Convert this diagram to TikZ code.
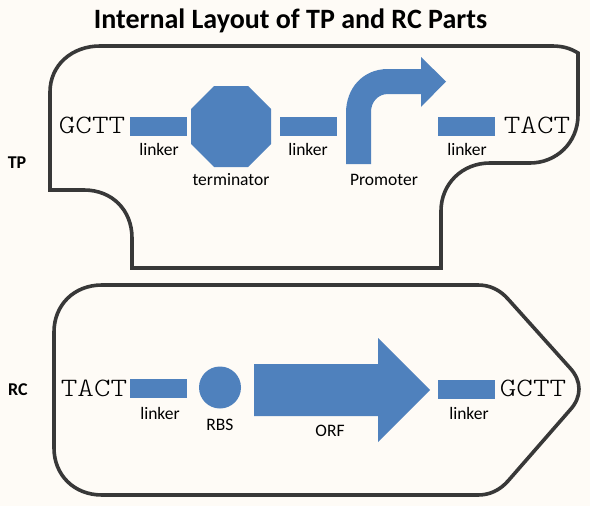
\documentclass[tikz,border=0pt]{standalone}
\usepackage{fontspec}
\setmainfont{Carlito}
\newfontfamily\seqfont[FakeStretch=1.19]{Latin Modern Mono Light}
\tikzset{
  outline/.style={draw=black!78,line width=3.6pt,line join=miter},
  part/.style={fill=partblue,draw=none},
  linkerbox/.style={part,minimum width=57pt,minimum height=19pt,inner sep=0pt},
  lbl/.style={font=\fontsize{17.5pt}{19pt}\selectfont,inner sep=0pt,text=black},
  seq/.style={font=\fontsize{26.5pt}{28pt}\selectfont\seqfont,inner sep=0pt,text=black},
  side/.style={font=\fontsize{18pt}{20pt}\selectfont\bfseries,inner sep=0pt,text=black},
}
\definecolor{partblue}{HTML}{4F81BD}
\definecolor{paper}{HTML}{FEFBF6}
\begin{document}
\begin{tikzpicture}[x=1pt,y=-1pt]
\useasboundingbox (0,0) rectangle (590,506);
\fill[paper] (0,0) rectangle (590,506);
\node[inner sep=0pt,font=\fontsize{28pt}{30pt}\selectfont\bfseries] (title) at (290.5,21) {Internal Layout of TP and RC Parts};
\node[side] (tp) at (17,163) {TP};
\node[side] (rc) at (18,390) {RC};
% TP outline
\draw[outline] (50,190) -- (50,92) .. controls (50,65) and (72,46) .. (100,46)
  -- (552,46) .. controls (562,46) and (570,48) .. (578,53)
  -- (578,115) .. controls (578,143) and (556,163) .. (530,163)
  -- (490,163) .. controls (462,163) and (441,184) .. (441,211)
  -- (441,268) -- (132,268) -- (132,238) .. controls (132,210) and (112,190) .. (84,190)
  -- cycle;
% RC outline
\draw[outline] (54,332) .. controls (54,305) and (74,285) .. (102,285)
  -- (478,285) .. controls (490,285) and (500,290) .. (508,299)
  -- (570,368) .. controls (582,381) and (582,397) .. (570,410)
  -- (508,481) .. controls (500,490) and (490,495) .. (478,495)
  -- (102,495) .. controls (74,495) and (54,475) .. (54,448) -- cycle;
% TP parts
\node[seq] (g1) at (92,125) {GCTT};
\node[linkerbox] (l1) at (158.5,126.5) {};
\node[lbl] (l1t) at (159,149) {linker};
\fill[part] (214,86) -- (248,86) -- (271,109) -- (271,144) -- (248,167) -- (214,167) -- (191,144) -- (191,109) -- cycle;
\node[lbl] (tt) at (231,180) {terminator};
\node[linkerbox] (l2) at (308,126.5) {};
\node[lbl] (l2t) at (308,149) {linker};
\fill[part] (346,164) -- (346,113) .. controls (346,88) and (363,69) .. (388,69) -- (421,69) -- (421,57)
  -- (446,81.5) -- (421,107) -- (421,94) -- (388,94) .. controls (378,94) and (371,102) .. (371,112) -- (371,164) -- cycle;
\node[lbl] (pt) at (384,180) {Promoter};
\node[linkerbox] (l3) at (466.5,126.5) {};
\node[lbl] (l3t) at (467,149) {linker};
\node[seq] (t1) at (537,125) {TACT};
% RC parts
\node[seq] (t2) at (94,388) {TACT};
\node[linkerbox] (l4) at (158.5,388.5) {};
\node[lbl] (l4t) at (160,413) {linker};
\node[part,circle,minimum size=42pt,inner sep=0pt] (rbs) at (220,387.5) {};
\node[lbl] (rbst) at (220,425) {RBS};
\fill[part] (254,364) -- (378,364) -- (378,338) -- (430,390) -- (378,442) -- (378,416) -- (254,416) -- cycle;
\node[lbl] (orf) at (330,431) {ORF};
\node[linkerbox] (l5) at (466.5,389) {};
\node[lbl] (l5t) at (469,413) {linker};
\node[seq] (g2) at (533,388) {GCTT};
\end{tikzpicture}
\end{document}
